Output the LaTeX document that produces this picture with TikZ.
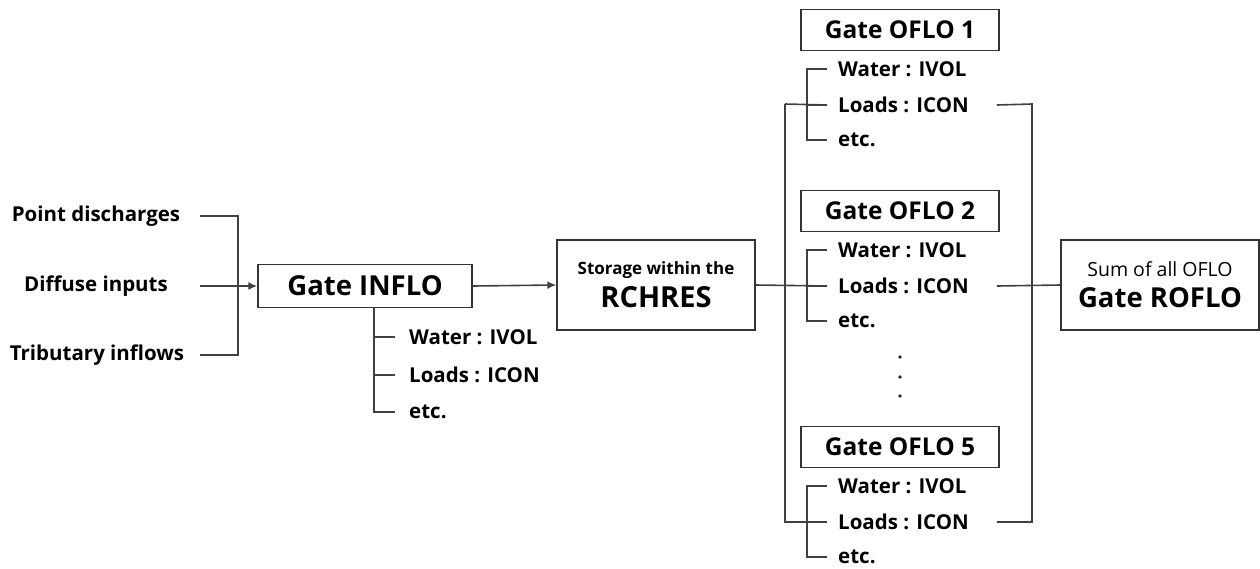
\documentclass[tikz,border=0pt]{standalone}
\usepackage{fontspec}
\setmainfont{Open Sans}
\usetikzlibrary{arrows.meta,positioning,calc}
\tikzset{
  gbox/.style  ={draw=black!80, line width=1.4pt, align=center, inner sep=2pt,
                 font=\bfseries\fontsize{24.5}{28}\selectfont, fill=white},
  bigbox/.style={gbox, minimum width=198pt, minimum height=90pt},
  src/.style   ={font=\bfseries\fontsize{20.5}{24}\selectfont, inner sep=2pt},
  item/.style  ={font=\bfseries\fontsize{20.5}{24}\selectfont, anchor=west, inner sep=2pt},
  ln/.style    ={draw=black!75, line width=1.6pt},
  ar/.style    ={ln, -{Latex[length=9pt, width=8pt]}},
}
\begin{document}
\begin{tikzpicture}[x=1pt, y=-1pt]
\useasboundingbox (0,0) rectangle (1260,568);
% sources and inflow gate
\node[src] (pd) at (96,216) {Point discharges};
\node[src] (df) at (96,286) {Diffuse inputs};
\node[src] (tr) at (97,355) {Tributary inflows};
\coordinate (jn) at (238,286);
\node[gbox, font=\bfseries\fontsize{27.5}{31}\selectfont, minimum width=214pt, minimum height=43pt] (inflo) at (365,286) {Gate INFLO};
\draw[ln] ($(pd.east -| jn)+(-38,0)$) -| (jn);
\draw[ln] ($(tr.east -| jn)+(-38,0)$) -| (jn);
\draw[ar] ($(df.east -| jn)+(-38,0)$) -- (inflo.west);
\node[item] (iw) at (407,337) {Water : IVOL};
\node[item] (il) at (407,375) {Loads : ICON};
\node[item] (ie) at (407,412) {etc.};
\coordinate (ib) at (374,307);
\draw[ln] (ib) |- ([xshift=-12pt]ie.west);
\draw[ln] (iw.west -| ib) -- ([xshift=-12pt]iw.west);
\draw[ln] (il.west -| ib) -- ([xshift=-12pt]il.west);
% storage
\node[bigbox] (store) at (656,285) {{\fontsize{17}{20}\selectfont Storage within the}\\[5pt]{\fontsize{29}{33}\selectfont RCHRES}};
\draw[ar] (inflo.east) -- (store.west);
% outflow gates
\coordinate (bl) at (785,104);
\coordinate (br) at (1032,104);
\foreach \n/\gy in {1/30, 2/211, 5/447}{
  \node[gbox, minimum width=198pt, minimum height=41pt] (o\n) at (900,\gy) {Gate OFLO \n};
  \node[item] (w\n) at (836,\gy+39) {Water : IVOL};
  \node[item] (l\n) at (836,\gy+75) {Loads : ICON};
  \node[item] (e\n) at (836,\gy+110) {etc.};
  \draw[ln] ([xshift=-9pt]w\n.west) -- +(-20,0) |- ([xshift=-9pt]e\n.west);
  \draw[ln] ([xshift=-29pt]l\n.west) -- ([xshift=-9pt]l\n.west);
}
\draw[ln] (bl) -- (bl |- l5.west) -- ([xshift=-9pt]l5.west);
\draw[ln] (bl) -- ([xshift=-9pt]l1.west);
\draw[ln] (store.east) -- ([xshift=-9pt]l2.west);
\fill[black!85] (900,357) circle (1.9) (900,377) circle (1.9) (900,396) circle (1.9);
% sum of outflows
\node[bigbox] (rofl) at (1160,285) {{\fontsize{19.5}{22}\selectfont\mdseries Sum of all OFLO}\\[3pt]{\fontsize{27.5}{31}\selectfont Gate ROFLO}};
\draw[ln] ($(l1.east)+(26,0)$) -- (br) -- (br |- l5.east) -- ($(l5.east)+(26,0)$);
\draw[ln] ($(l2.east)+(26,0)$) -- (rofl.west);
\end{tikzpicture}
\end{document}
